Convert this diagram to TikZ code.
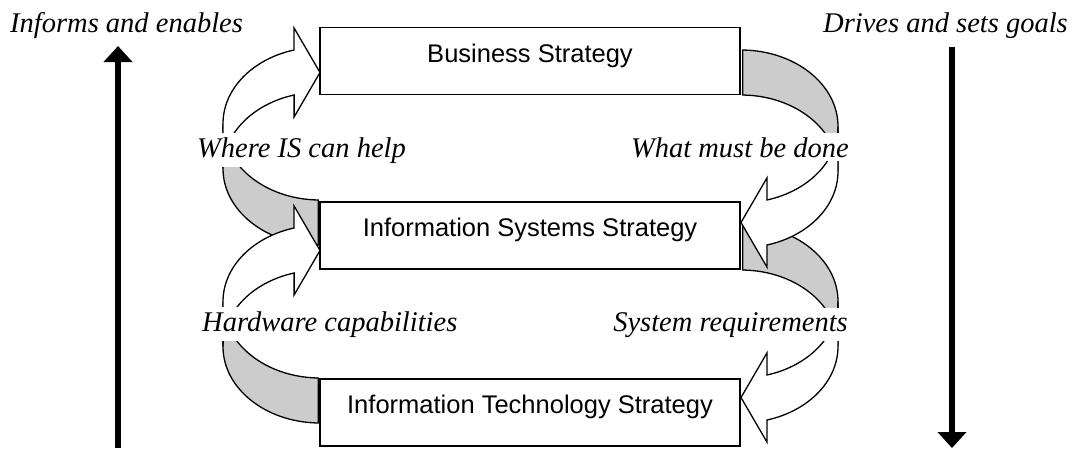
\documentclass[tikz,border=0pt]{standalone}
\usepackage{fontspec}
\setmainfont{Liberation Serif}
\newfontfamily\arialfont{Liberation Sans}
\usetikzlibrary{arrows.meta}
\definecolor{bandgray}{gray}{0.8}

\tikzset{
  band/.style={draw=black, line width=1.3pt},
  backband/.style={band, fill=bandgray},
  frontband/.style={band, fill=white},
  stratbox/.style={draw, line width=1.5pt, fill=white, minimum width=420pt, minimum height=67pt, inner sep=0pt},
  boxtext/.style={font=\arialfont\fontsize{25.5}{30}\selectfont, inner sep=0pt, anchor=base},
  flowlabel/.style={font=\itshape\fontsize{28.5}{32}\selectfont, fill=white, inner xsep=2pt, inner ysep=4pt},
  sidelabel/.style={font=\itshape\fontsize{28.5}{32}\selectfont, inner sep=0pt},
  bigarrow/.style={line width=6.5pt, -{Triangle[length=16pt,width=28pt]}}
}

% curved arrow, origin = centre of the upper ellipse
\newcommand{\backband}{(-97,0) arc[start angle=180,end angle=91,x radius=97,y radius=76.4]
  -- ++(0,45) arc[start angle=91,end angle=180,x radius=97,y radius=76.4] -- cycle}
\newcommand{\frontband}{(-97,0) arc[start angle=180,end angle=254.5,x radius=97,y radius=76.4]
  -- ++(0,-22) -- (0,-51.1) -- (-25.9,-6.6) -- ++(0,-22)
  arc[start angle=254.5,end angle=180,x radius=97,y radius=76.4] -- cycle}

\begin{document}
\begin{tikzpicture}[x=1pt,y=-1pt]
\useasboundingbox (0,0) rectangle (1076,448);

% back of the curved arrows
\foreach \gx/\gy/\rot in {320/123.6/0, 320/301.6/0, 741/171.4/180, 741/346.4/180}
  \draw[backband, shift={(\gx,\gy)}, rotate=\rot] \backband;
% front of the curved arrows
\foreach \gx/\gy/\rot in {320/123.6/0, 320/301.6/0, 741/171.4/180, 741/346.4/180}
  \draw[frontband, shift={(\gx,\gy)}, rotate=\rot] \frontband;

% labels on the curved arrows
\node[flowlabel, anchor=base west] (helplbl) at (195,157) {Where IS can help};
\node[flowlabel, anchor=base east] (donelbl) at (851,157) {What must be done};
\node[flowlabel, anchor=base west] (hwlbl) at (200,331) {Hardware capabilities};
\node[flowlabel, anchor=base east] (reqlbl) at (850,331) {System requirements};

% the three strategies
\node[stratbox] (bizbox) at (530,61) {};
\node[boxtext] (biztext) at ([yshift=-1pt]bizbox.center) {Business Strategy};
\node[stratbox] (isbox) at (530,235.5) {};
\node[boxtext] (istext) at ([yshift=-1pt]isbox.center) {Information Systems Strategy};
\node[stratbox] (itbox) at (530,412.5) {};
\node[boxtext] (ittext) at ([yshift=-1pt]itbox.center) {Information Technology Strategy};

% side arrows
\node[sidelabel, anchor=base west] (informlbl) at (10,32) {Informs and enables};
\node[sidelabel, anchor=base east] (drivelbl) at (1068,32) {Drives and sets goals};
\coordinate (upfoot) at (118,448);
\coordinate (uphead) at (118,46);
\draw[bigarrow] (upfoot) -- (uphead);
\coordinate (downtop) at (952,47);
\coordinate (downhead) at (952,448);
\draw[bigarrow] (downtop) -- (downhead);
\end{tikzpicture}
\end{document}
